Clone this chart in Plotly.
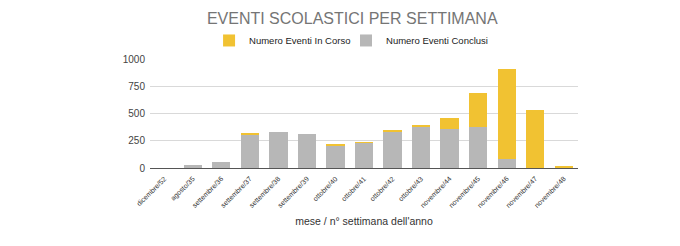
import plotly.graph_objects as go

categories = ["dicembre/52", "agosto/35", "settembre/36", "settembre/37", "settembre/38",
              "settembre/39", "ottobre/40", "ottobre/41", "ottobre/42", "ottobre/43",
              "novembre/44", "novembre/45", "novembre/46", "novembre/47", "novembre/48"]
conclusi = [0, 30, 52, 305, 330, 310, 205, 232, 332, 380, 360, 377, 86, 0, 0]
in_corso = [0, 0, 0, 10, 0, 0, 10, 6, 10, 15, 95, 307, 825, 535, 15]
y_ticks = [0, 250, 500, 750, 1000]

YELLOW = "#F1C232"
GRAY = "#B7B7B7"
FONT = "Liberation Sans, Arial, sans-serif"

fig = go.Figure()
fig.add_trace(go.Bar(x=categories, y=conclusi, name="Numero Eventi Conclusi",
                     marker=dict(color=GRAY, line=dict(width=0)), legend="legend2"))
fig.add_trace(go.Bar(x=categories, y=in_corso, name="Numero Eventi In Corso",
                     marker=dict(color=YELLOW, line=dict(width=0)), legend="legend"))

leg_common = dict(orientation="h", yanchor="middle", y=1.17, xanchor="left",
                  font=dict(size=9.5, color="#222222"), itemwidth=30,
                  bgcolor="rgba(0,0,0,0)")

fig.update_layout(
    width=680, height=246,
    barmode="stack", bargap=0.36,
    paper_bgcolor="white", plot_bgcolor="white",
    margin=dict(l=150, r=102, t=59, b=78),
    font=dict(family=FONT, color="#444444"),
    title=dict(text="EVENTI SCOLASTICI PER SETTIMANA", xref="container", x=0.518,
               xanchor="center", yref="container", y=0.925, yanchor="middle",
               font=dict(size=16, color="#757575", family=FONT)),
    legend=dict(x=0.138, **leg_common),
    legend2=dict(x=0.458, **leg_common),
    showlegend=True,
)
fig.update_xaxes(tickangle=-45, tickfont=dict(size=7, color="#333333"),
                 ticklabelstandoff=3,
                 title=dict(text="mese / n° settimana dell'anno", font=dict(size=10.5, color="#333333"),
                            standoff=9),
                 showline=True, linecolor="#555555", linewidth=1, ticks="", showgrid=False)
fig.update_yaxes(range=[0, 1000], tickvals=y_ticks, tickfont=dict(size=10, color="#444444"),
                 showgrid=True, gridcolor="#D9D9D9", gridwidth=1, zeroline=False,
                 ticks="", ticklabelstandoff=4)

fig.write_html("out.html")
